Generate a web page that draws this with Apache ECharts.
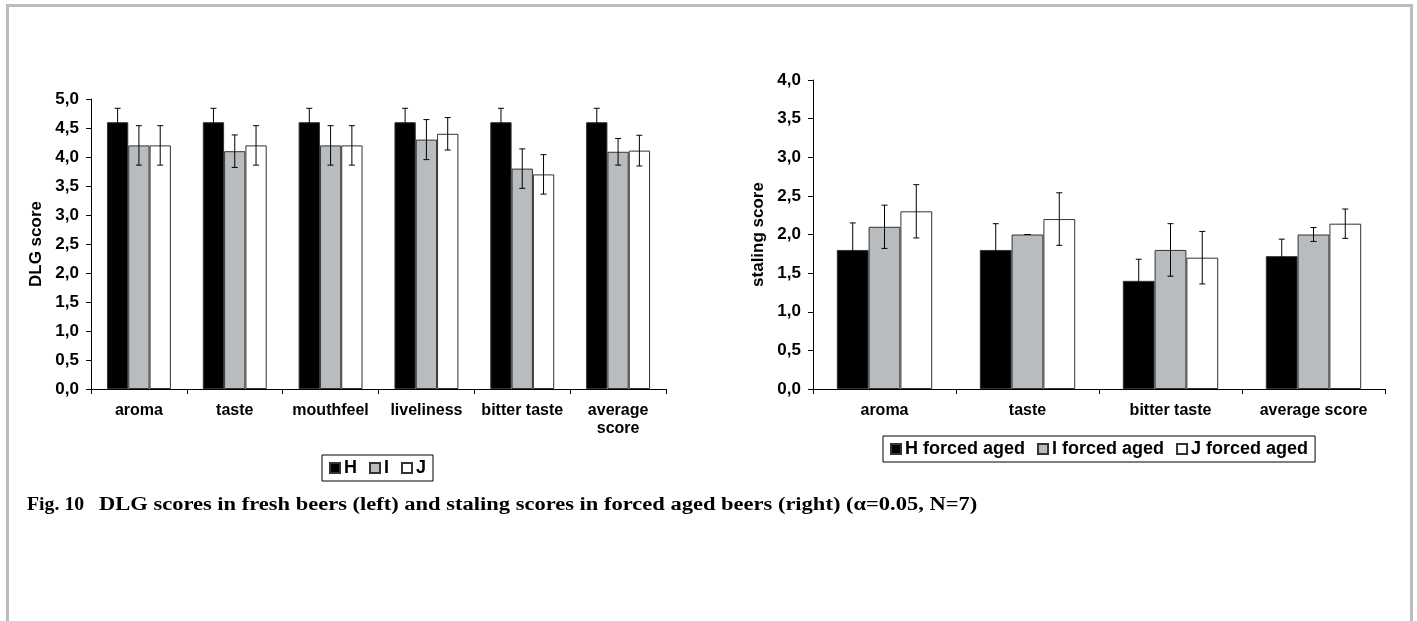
<!DOCTYPE html>
<html>
<head>
<meta charset="utf-8">
<script src="https://cdn.jsdelivr.net/npm/echarts@6/dist/echarts.min.js"></script>
<style>
html,body{margin:0;padding:0;background:#fff;}
#chart{width:1417px;height:621px;}
</style>
</head>
<body>
<div id="chart"></div>
<script>
// ---- data: left chart (fresh beers, DLG score) ----
const leftCategories = ['aroma', 'taste', 'mouthfeel', 'liveliness', 'bitter taste', 'average\nscore'];
const leftH = [4.6, 4.6, 4.6, 4.6, 4.6, 4.6];
const leftHErr = [0.24, 0.24, 0.24, 0.24, 0.24, 0.24];
const leftI = [4.2, 4.1, 4.2, 4.3, 3.8, 4.09];
const leftIErr = [0.34, 0.28, 0.34, 0.345, 0.34, 0.23];
const leftJ = [4.2, 4.2, 4.2, 4.4, 3.7, 4.11];
const leftJErr = [0.34, 0.34, 0.34, 0.28, 0.34, 0.265];
const leftNames = ['H', 'I', 'J'];
const leftYTicks = { min: 0, max: 5, interval: 0.5 };

// ---- data: right chart (forced aged beers, staling score) ----
const rightCategories = ['aroma', 'taste', 'bitter taste', 'average score'];
const rightH = [1.8, 1.8, 1.4, 1.72];
const rightHErr = [0.35, 0.34, 0.28, 0.22];
const rightI = [2.1, 2.0, 1.8, 2.0];
const rightIErr = [0.28, 0.0, 0.34, 0.09];
const rightJ = [2.3, 2.2, 1.7, 2.14];
const rightJErr = [0.345, 0.34, 0.34, 0.19];
const rightNames = ['H forced aged', 'I forced aged', 'J forced aged'];
const rightYTicks = { min: 0, max: 4, interval: 0.5 };

const captionNum = 'Fig. 10';
const captionText = 'DLG scores in fresh beers (left) and staling scores in forced aged beers (right) (\u03b1=0.05, N=7)';

// ---- styles ----
const FONT = "'Liberation Sans', Arial, sans-serif";
const SERIF = "bold 18px 'Liberation Serif', 'Times New Roman', serif";
const fills = ['#000000', '#b8bcbe', '#ffffff'];
const edge = '#333333';
const CAT_GAP = 1 / 3; // fraction of category left empty
const NSER = 3;

function fmt(v) { return v.toFixed(1).replace('.', ','); }

function barSeries(name, values, idx, axisIdx) {
  return {
    name: name, type: 'bar', xAxisIndex: axisIdx, yAxisIndex: axisIdx,
    data: values, barGap: '0%', barCategoryGap: '33.3%',
    itemStyle: { color: fills[idx], borderColor: edge, borderWidth: 1 },
    emphasis: { disabled: true }, silent: true, z: 2
  };
}

function errSeries(values, errs, idx, axisIdx) {
  const data = values.map((v, i) => [i, v - errs[i], v + errs[i]]);
  return {
    type: 'custom', xAxisIndex: axisIdx, yAxisIndex: axisIdx, silent: true, z: 5,
    data: data,
    encode: { x: 0, y: [1, 2] },
    renderItem: function (params, api) {
      const cat = api.value(0);
      const lo = api.coord([cat, api.value(1)]);
      const hi = api.coord([cat, api.value(2)]);
      const bandW = api.size([1, 0])[0];
      const groupW = bandW * (1 - CAT_GAP);
      const barW = groupW / NSER;
      const x = lo[0] - groupW / 2 + barW * (idx + 0.5);
      const cap = 3;
      const st = { stroke: '#000', lineWidth: 1 };
      return {
        type: 'group',
        children: [
          { type: 'line', shape: { x1: x, y1: lo[1], x2: x, y2: hi[1] }, style: st },
          { type: 'line', shape: { x1: x - cap, y1: hi[1], x2: x + cap, y2: hi[1] }, style: st },
          { type: 'line', shape: { x1: x - cap, y1: lo[1], x2: x + cap, y2: lo[1] }, style: st }
        ]
      };
    }
  };
}

function xAxis(cats, gridIdx) {
  return {
    type: 'category', gridIndex: gridIdx, data: cats,
    axisLine: { lineStyle: { color: '#000', width: 1 } },
    axisTick: { show: true, length: 5, lineStyle: { color: '#000' } },
    axisLabel: { fontFamily: FONT, fontWeight: 'bold', fontSize: 16, color: '#000', margin: 13, interval: 0, lineHeight: 18 }
  };
}

function yAxis(ticks, name, gridIdx) {
  return {
    type: 'value', gridIndex: gridIdx, min: ticks.min, max: ticks.max, interval: ticks.interval,
    name: name, nameLocation: 'middle', nameGap: 46, nameRotate: 90,
    nameTextStyle: { fontFamily: FONT, fontWeight: 'bold', fontSize: 17, color: '#000' },
    axisLine: { show: true, lineStyle: { color: '#000', width: 1 } },
    axisTick: { show: true, length: 5, lineStyle: { color: '#000' } },
    splitLine: { show: false },
    axisLabel: { fontFamily: FONT, fontWeight: 'bold', fontSize: 17, color: '#000', margin: 12, formatter: fmt }
  };
}

function legend(names, left, top) {
  return {
    data: names, left: left, top: top, orient: 'horizontal',
    borderColor: '#000', borderWidth: 1, padding: [4, 7], itemGap: 12,
    itemWidth: 10, itemHeight: 10, icon: 'rect', selectedMode: false,
    textStyle: { fontFamily: FONT, fontWeight: 'bold', fontSize: 18, color: '#000', padding: [0, 0, 0, -1] }
  };
}

const option = {
  animation: false,
  backgroundColor: '#fff',
  grid: [
    { left: 91, top: 99, width: 575, height: 290, containLabel: false },
    { left: 813, top: 80, width: 572, height: 309, containLabel: false }
  ],
  xAxis: [xAxis(leftCategories, 0), xAxis(rightCategories, 1)],
  yAxis: [yAxis(leftYTicks, 'DLG score', 0), yAxis(rightYTicks, 'staling score', 1)],
  legend: [legend(leftNames, 322, 455), legend(rightNames, 883, 436)],
  series: [
    barSeries(leftNames[0], leftH, 0, 0),
    barSeries(leftNames[1], leftI, 1, 0),
    barSeries(leftNames[2], leftJ, 2, 0),
    errSeries(leftH, leftHErr, 0, 0),
    errSeries(leftI, leftIErr, 1, 0),
    errSeries(leftJ, leftJErr, 2, 0),
    barSeries(rightNames[0], rightH, 0, 1),
    barSeries(rightNames[1], rightI, 1, 1),
    barSeries(rightNames[2], rightJ, 2, 1),
    errSeries(rightH, rightHErr, 0, 1),
    errSeries(rightI, rightIErr, 1, 1),
    errSeries(rightJ, rightJErr, 2, 1)
  ],
  graphic: [
    { type: 'line', silent: true, shape: { x1: 6, y1: 5.5, x2: 1413, y2: 5.5 }, style: { stroke: '#bcbcbc', lineWidth: 3 } },
    { type: 'line', silent: true, shape: { x1: 7.5, y1: 4, x2: 7.5, y2: 621 }, style: { stroke: '#bcbcbc', lineWidth: 3 } },
    { type: 'line', silent: true, shape: { x1: 1411.5, y1: 4, x2: 1411.5, y2: 621 }, style: { stroke: '#bcbcbc', lineWidth: 3 } },
    { type: 'text', silent: true, x: 27, y: 505, scaleX: 1.1, style: { text: captionNum, font: SERIF, fill: '#000', textVerticalAlign: 'middle' } },
    { type: 'text', silent: true, x: 99, y: 505, scaleX: 1.25, style: { text: captionText, font: SERIF, fill: '#000', textVerticalAlign: 'middle' } }
  ]
};

const chart = echarts.init(document.getElementById('chart'), null, { renderer: 'canvas' });
chart.setOption(option);
</script>
</body>
</html>
